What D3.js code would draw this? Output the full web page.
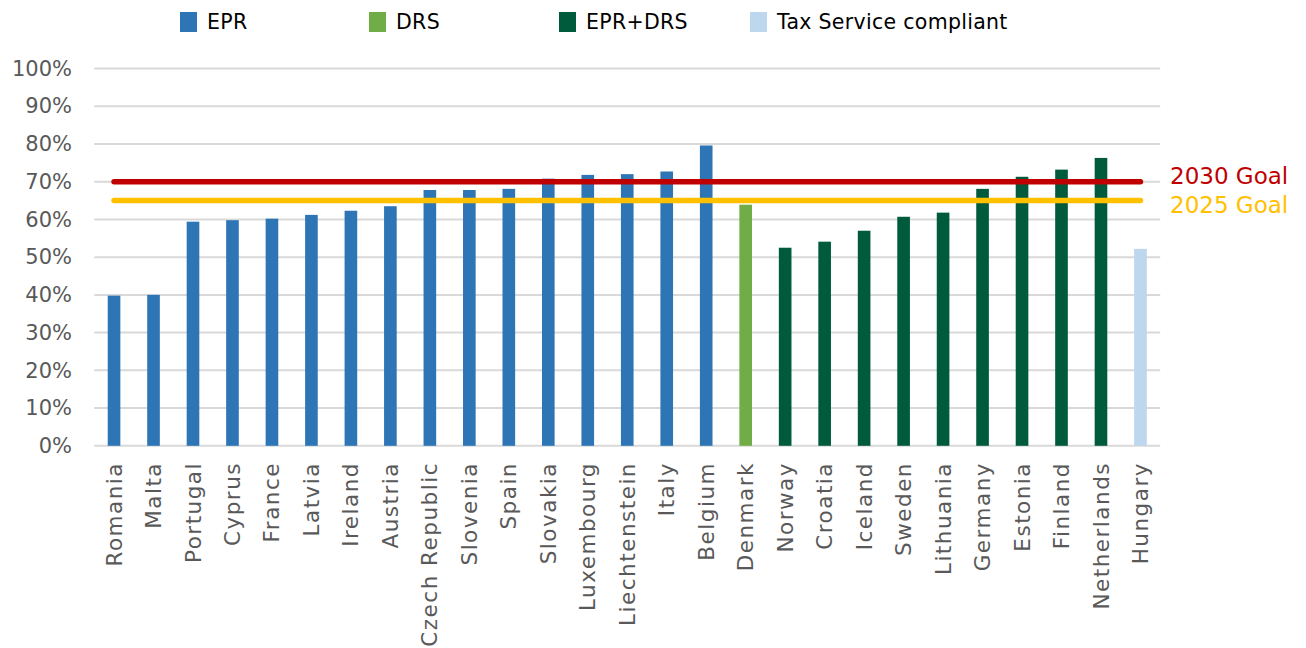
<!DOCTYPE html>
<html>
<head>
<meta charset="utf-8">
<script src="https://cdn.jsdelivr.net/npm/d3@7/dist/d3.min.js"></script>
<style>
  html, body { margin: 0; padding: 0; background: #fff; }
  svg { display: block; font-family: "DejaVu Sans", sans-serif; }
</style>
</head>
<body>
<svg id="chart" width="1306" height="648"></svg>
<script>
// Packaging recycling rates by country and collection scheme
const countries = ["Romania", "Malta", "Portugal", "Cyprus", "France", "Latvia", "Ireland", "Austria",
  "Czech Republic", "Slovenia", "Spain", "Slovakia", "Luxembourg", "Liechtenstein", "Italy", "Belgium",
  "Denmark", "Norway", "Croatia", "Iceland", "Sweden", "Lithuania", "Germany", "Estonia", "Finland",
  "Netherlands", "Hungary"];
const rates = [0.398, 0.40, 0.594, 0.598, 0.602, 0.612, 0.623, 0.635,
  0.678, 0.678, 0.681, 0.708, 0.718, 0.720, 0.727, 0.796,
  0.639, 0.525, 0.541, 0.570, 0.607, 0.618, 0.681, 0.713, 0.732,
  0.763, 0.522];
const schemes = ["EPR", "EPR", "EPR", "EPR", "EPR", "EPR", "EPR", "EPR",
  "EPR", "EPR", "EPR", "EPR", "EPR", "EPR", "EPR", "EPR",
  "DRS", "EPR+DRS", "EPR+DRS", "EPR+DRS", "EPR+DRS", "EPR+DRS", "EPR+DRS", "EPR+DRS", "EPR+DRS",
  "EPR+DRS", "Tax Service compliant"];
const schemeNames = ["EPR", "DRS", "EPR+DRS", "Tax Service compliant"];
const schemeColors = ["#2E75B6", "#70AD47", "#005A3C", "#BDD7EE"];
const goalLabels = ["2030 Goal", "2025 Goal"];
const goalValues = [0.70, 0.65];
const goalColors = ["#C00000", "#FFC000"];
const yTicks = [0, 0.1, 0.2, 0.3, 0.4, 0.5, 0.6, 0.7, 0.8, 0.9, 1.0];

const svg = d3.select("#chart");
const plotLeft = 94.3, plotRight = 1160.2, plotTop = 68.5, plotBottom = 445.8;

const x = d3.scaleBand().domain(countries).range([plotLeft, plotRight])
  .paddingInner(0.68).paddingOuter(0.34);
const y = d3.scaleLinear().domain([0, 1]).range([plotBottom, plotTop]);
const color = d3.scaleOrdinal().domain(schemeNames).range(schemeColors);

// Gridlines
svg.append("g").selectAll("line").data(yTicks).join("line")
  .attr("x1", plotLeft).attr("x2", plotRight)
  .attr("y1", d => y(d)).attr("y2", d => y(d))
  .attr("stroke", "#D9D9D9").attr("stroke-width", 2);

// Y axis labels
const yAxis = d3.axisLeft(y).tickValues(yTicks).tickFormat(d3.format(".0%")).tickSize(0).tickPadding(0);
const yg = svg.append("g").attr("transform", `translate(72,0)`).call(yAxis);
yg.select(".domain").remove();
yg.selectAll("text").attr("fill", "#595959").attr("font-size", 21)
  .attr("font-family", "DejaVu Sans, sans-serif");

// Bars
svg.append("g").selectAll("rect").data(countries).join("rect")
  .attr("x", d => x(d))
  .attr("width", x.bandwidth())
  .attr("y", (d, i) => y(rates[i]))
  .attr("height", (d, i) => y(0) - y(rates[i]))
  .attr("fill", (d, i) => color(schemes[i]));

// Category labels, rotated
const xAxis = d3.axisBottom(x).tickSize(0).tickPadding(0);
const xg = svg.append("g").attr("transform", `translate(0,462)`).call(xAxis);
xg.select(".domain").remove();
xg.selectAll("text")
  .attr("fill", "#595959").attr("font-size", 21.5)
  .attr("letter-spacing", 1.5)
  .attr("font-family", "DejaVu Sans, sans-serif")
  .attr("text-anchor", "end")
  .attr("transform", "rotate(-90)")
  .attr("x", 0).attr("y", 0).attr("dy", "0.35em");

// Goal lines
const x0 = x(countries[0]) + x.bandwidth() / 2;
const x1 = x(countries[countries.length - 1]) + x.bandwidth() / 2;
const goalOffsets = [-6, 4];
const goals = svg.append("g");
goals.selectAll("line").data(goalValues).join("line")
  .attr("x1", x0).attr("x2", x1)
  .attr("y1", d => y(d)).attr("y2", d => y(d))
  .attr("stroke", (d, i) => goalColors[i])
  .attr("stroke-width", 5.5)
  .attr("stroke-linecap", "round");
goals.selectAll("text").data(goalValues).join("text")
  .attr("x", 1170)
  .attr("y", (d, i) => y(d) + goalOffsets[i])
  .attr("dy", "0.35em")
  .attr("font-size", 23)
  .attr("fill", (d, i) => goalColors[i])
  .text((d, i) => goalLabels[i]);

// Legend
const legendX = [180, 369, 559, 750];
const legend = svg.append("g").selectAll("g").data(schemeNames).join("g")
  .attr("transform", (d, i) => `translate(${legendX[i]},12)`);
legend.append("rect").attr("width", 17).attr("height", 20).attr("fill", d => color(d));
legend.append("text").attr("x", 27).attr("y", 10).attr("dy", "0.35em")
  .attr("font-size", 20.5).attr("letter-spacing", 0.3).attr("fill", "#000").text(d => d);
</script>
</body>
</html>
